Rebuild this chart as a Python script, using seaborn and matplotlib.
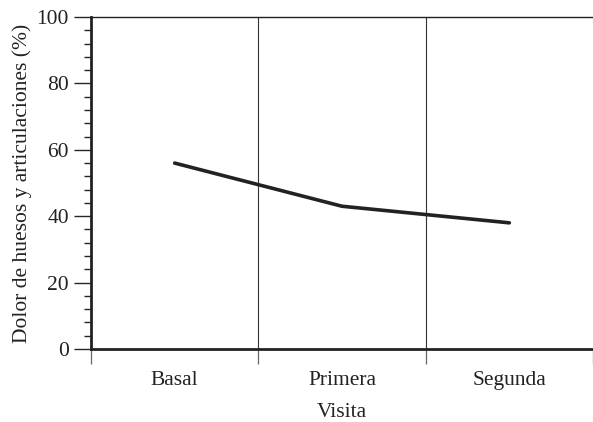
import numpy as np
import pandas as pd
import matplotlib.pyplot as plt
import seaborn as sns
from matplotlib.ticker import MultipleLocator, FixedLocator, NullFormatter, FixedFormatter

visitas = ['Basal', 'Primera', 'Segunda']
dolor = [56, 43, 38]

sns.set_style('ticks')
plt.rcParams['font.family'] = ['Liberation Serif', 'DejaVu Serif']
plt.rcParams['text.color'] = '#222222'
plt.rcParams['xtick.labelcolor'] = '#222222'
plt.rcParams['ytick.labelcolor'] = '#222222'
plt.rcParams['axes.labelcolor'] = '#222222'

df = pd.DataFrame({'pos': np.arange(len(visitas)) + 0.5, 'dolor': dolor})

fig = plt.figure(figsize=(5.93, 4.22), dpi=100)
ax = fig.add_axes([91 / 593, 73 / 422, 1 - 91 / 593, 332 / 422])

sns.lineplot(data=df, x='pos', y='dolor', ax=ax, color='#222222', linewidth=2.6)

for b in range(1, len(visitas)):
    ax.axvline(b, color='#333333', linewidth=0.8, zorder=1)

ax.set_xlim(0, len(visitas))
ax.set_ylim(0, 100)

ax.xaxis.set_major_locator(FixedLocator(range(len(visitas) + 1)))
ax.xaxis.set_major_formatter(NullFormatter())
ax.xaxis.set_minor_locator(FixedLocator(df['pos']))
ax.xaxis.set_minor_formatter(FixedFormatter(visitas))
ax.tick_params(axis='x', which='major', length=11, width=0.9, color='#666666')
ax.tick_params(axis='x', which='minor', length=0, pad=16, labelsize=15.5)

ax.yaxis.set_major_locator(MultipleLocator(20))
ax.yaxis.set_minor_locator(MultipleLocator(4))
ax.tick_params(axis='y', which='major', length=12, width=1, labelsize=15.5, pad=4)
ax.tick_params(axis='y', which='minor', length=5, width=1)

for side in ['left', 'bottom']:
    ax.spines[side].set_linewidth(2)
    ax.spines[side].set_color('#222222')
ax.spines['top'].set_linewidth(1)
ax.spines['top'].set_color('#222222')
ax.spines['right'].set_visible(False)

ax.set_xlabel('Visita', fontsize=15.5, labelpad=9)
ax.set_ylabel('Dolor de huesos y articulaciones (%)', fontsize=15.5, labelpad=3)

fig.savefig('out.png', dpi=100)
